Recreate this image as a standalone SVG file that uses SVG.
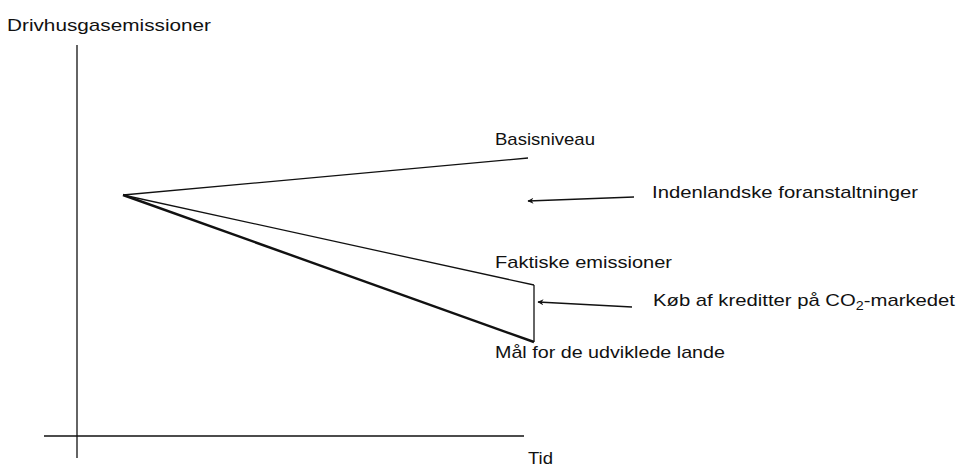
<svg xmlns="http://www.w3.org/2000/svg" width="960" height="468" viewBox="0 0 960 468">
<defs>
<style>
text{font-family:"Liberation Sans",Arial,sans-serif;font-size:17px;fill:#111;}
.ax{stroke:#111;stroke-width:1.3;fill:none;}
.ln{stroke:#111;stroke-width:1.3;fill:none;}
.thick{stroke:#111;stroke-width:2.4;fill:none;}
.arr{stroke:#111;stroke-width:1.5;fill:none;marker-end:url(#ah);}
</style>
<marker id="ah" viewBox="0 0 10 10" refX="9" refY="5" markerWidth="11" markerHeight="6" markerUnits="userSpaceOnUse" orient="auto">
<path d="M0,0 L10,5 L0,10 L3,5 Z" fill="#111"/>
</marker>
</defs>
<rect width="960" height="468" fill="#fff"/>
<g id="axes">
<line class="ax" x1="77" y1="45" x2="77" y2="458"/>
<line class="ax" x1="44" y1="436" x2="524" y2="436"/>
<text x="7" y="31" textLength="204" lengthAdjust="spacingAndGlyphs">Drivhusgasemissioner</text>
<text x="528" y="464" textLength="25" lengthAdjust="spacingAndGlyphs">Tid</text>
</g>
<g id="lines">
<line class="ln" x1="123" y1="195" x2="528" y2="158"/>
<line class="ln" x1="123" y1="195" x2="534" y2="285"/>
<line class="thick" x1="123" y1="195" x2="534" y2="342"/>
<line class="ln" x1="534" y1="285" x2="534" y2="342"/>
</g>
<g id="basis"><text x="495" y="145" textLength="100" lengthAdjust="spacingAndGlyphs">Basisniveau</text></g>
<g id="faktiske"><text x="495" y="268" textLength="177" lengthAdjust="spacingAndGlyphs">Faktiske emissioner</text></g>
<g id="maal"><text x="495" y="358" textLength="230" lengthAdjust="spacingAndGlyphs">Mål for de udviklede lande</text></g>
<g id="indenlandske"><text x="652" y="198" textLength="266" lengthAdjust="spacingAndGlyphs">Indenlandske foranstaltninger</text></g>
<g id="koeb"><text x="653" y="306" textLength="302" lengthAdjust="spacingAndGlyphs">Køb af kreditter på CO<tspan font-size="12" dy="4">2</tspan><tspan dy="-4">-markedet</tspan></text></g>
<g id="connectors">
<line class="arr" x1="634" y1="197" x2="528" y2="201"/>
<line class="arr" x1="632" y1="307" x2="538" y2="302"/>
</g>
</svg>
